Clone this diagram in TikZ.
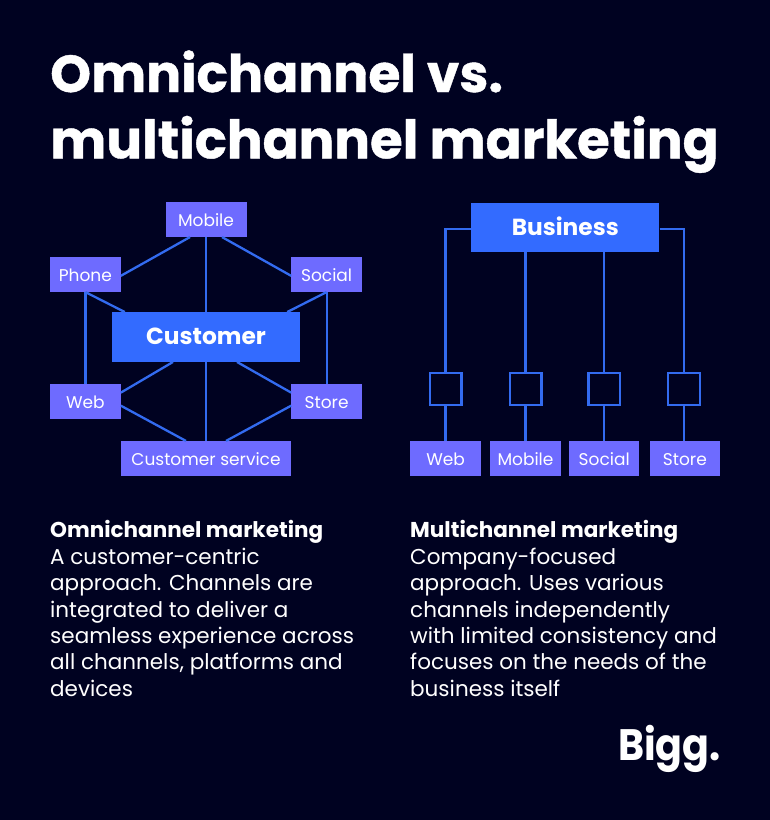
\documentclass[tikz,border=0pt]{standalone}
\usepackage{fontspec}
\setmainfont{Poppins}
\newfontfamily\logofont[FakeStretch=0.9]{Poppins}
\newfontfamily\headfont[BoldFeatures={FakeBold=0.8}]{Poppins}
\usetikzlibrary{positioning}
\definecolor{pagebg}{RGB}{0,2,33}
\definecolor{chanfill}{RGB}{110,107,255}
\definecolor{hubfill}{RGB}{51,107,255}
\definecolor{linkblue}{RGB}{51,107,240}

\begin{document}
\begin{tikzpicture}[x=1pt, y=-1pt,
        chan/.style={fill=chanfill, text=white, inner sep=0pt, text height=14.5pt, text depth=0pt, minimum width=70.5pt, minimum height=35pt, font=\fontsize{17}{20}\selectfont},
        hub/.style={fill=hubfill, text=white, inner sep=0pt, text depth=2pt, minimum width=188pt, minimum height=49.5pt, font=\fontsize{23.3}{26}\selectfont\bfseries},
        tick/.style={draw=linkblue, line width=2.3pt, fill=pagebg, inner sep=0pt, minimum size=31.7pt},
        link/.style={draw=linkblue, line width=2.3pt},
        titletext/.style={text=white, anchor=base west, inner sep=0pt, font=\fontsize{52}{65}\headfont\bfseries},
        bodytext/.style={text=white, anchor=north west, align=left, inner sep=0pt, font=\fontsize{21.5}{26.4}\selectfont}]
        \fill[pagebg] (0,0) rectangle (770,820);
        \useasboundingbox (0,0) rectangle (770,820);
        % heading
        \node (titlea) [titletext] at (50,92) {Omnichannel vs.};
        \node (titleb) [titletext, font=\fontsize{53}{65}\headfont\bfseries] at (50,158.3) {multichannel marketing};
        % left diagram
        \node (customer) [hub] at (206,337) {Customer};
        \node (mobile) [chan, above=75pt of customer, minimum width=81pt] {Mobile};
        \node (phone) [chan, above left=20pt and -9pt of customer] {Phone};
        \node (social) [chan, above right=20pt and -9pt of customer] {Social};
        \node (web) [chan, below left=22pt and -9pt of customer] {Web};
        \node (store) [chan, below right=22pt and -9pt of customer] {Store};
        \node (service) [chan, below=79pt of customer, minimum width=170pt] {Customer service};
        \draw[link] ([xshift=-16pt]mobile.south) -- ([yshift=-1.5pt]phone.east);
        \draw[link] ([xshift=16pt]mobile.south) -- ([yshift=-1.5pt]social.west);
        \draw[link] (mobile) -- (customer);
        \draw[link] (phone.south) -- ([xshift=13pt]customer.north west);
        \draw[link] (social.south) -- ([xshift=-13pt]customer.north east);
        \draw[link] (phone) -- (web);
        \draw[link] (social) -- (store);
        \draw[link] ([xshift=-33pt]customer.south) -- ([yshift=9pt]web.east);
        \draw[link] ([xshift=31pt]customer.south) -- ([yshift=9pt]store.west);
        \draw[link] (customer) -- (service);
        \draw[link] ([yshift=-4pt]web.east) -- ([xshift=-20pt]service.north);
        \draw[link] ([yshift=-4pt]store.west) -- ([xshift=20pt]service.north);
        % right diagram
        \node (business) [hub] at (565.3,227.3) {Business};
        \node (tickb) [tick] at (525.5,389) {};
        \node (ticka) [tick, left=45.9pt of tickb] {};
        \node (tickc) [tick, right=44.7pt of tickb] {};
        \node (tickd) [tick, right=45.7pt of tickc] {};
        \node (webb) [chan, below=35pt of ticka] {Web};
        \node (mobileb) [chan, below=35pt of tickb] {Mobile};
        \node (socialb) [chan, below=35pt of tickc] {Social};
        \node (storeb) [chan, below=35pt of tickd, xshift=1pt] {Store};
        \draw[link] ([yshift=-1.4pt]business.west) -| (ticka.north);
        \draw[link] ([yshift=-1.4pt]business.east) -| (tickd.north);
        \draw[link] (business.south -| tickb) -- (tickb.north);
        \draw[link] (business.south -| tickc) -- (tickc.north);
        \draw[link] (ticka) -- (webb);
        \draw[link] (tickb) -- (mobileb);
        \draw[link] (tickc) -- (socialb);
        \draw[link] (tickd.south) -- (tickd.south |- storeb.north);
        % captions
        \node (omnitext) [bodytext] at (50,520.5) {\textbf{Omnichannel marketing}\\A customer-centric\\approach. Channels are\\integrated to deliver a\\seamless experience across\\all channels, platforms and\\devices};
        \node (multitext) [bodytext] at (410,520.5) {\textbf{Multichannel marketing}\\Company-focused\\approach. Uses various\\channels independently\\with limited consistency and\\focuses on the needs of the\\business itself};
        \node (logo) [text=white, anchor=base east, inner sep=0pt, font=\fontsize{44}{50}\logofont\bfseries] at (721,760) {Bigg.};
      \end{tikzpicture}
\end{document}
